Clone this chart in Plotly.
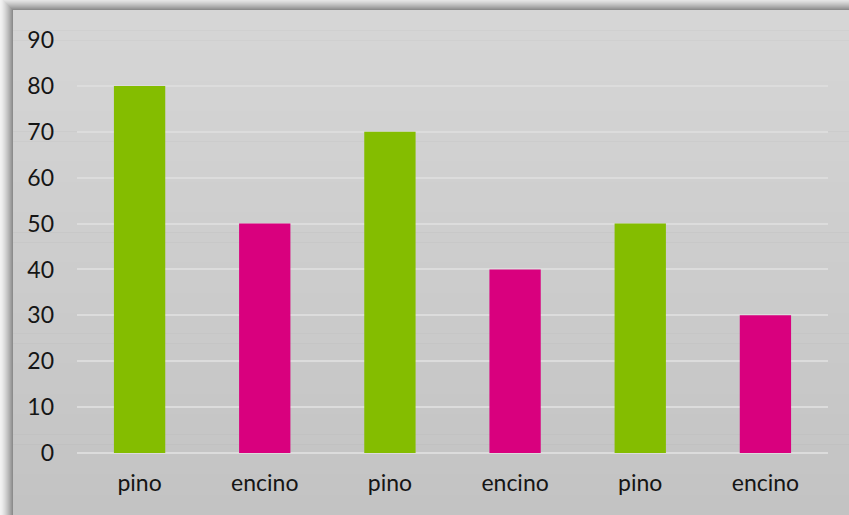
import plotly.graph_objects as go

categories = ["pino", "encino", "pino", "encino", "pino", "encino"]
values = [80, 50, 70, 40, 50, 30]
y_ticks = [0, 10, 20, 30, 40, 50, 60, 70, 80, 90]

COLOR_MAP = {"pino": "#84BD00", "encino": "#D9007E"}

W, H = 849, 515
L, R, T, B = 77, 21, 40, 62
PW, PH = W - L - R, H - T - B


def px(x):
    return (x - L) / PW


def py(y):
    return (H - B - y) / PH


def mix(c1, c2, t):
    return "#%02x%02x%02x" % tuple(int(round(a + (b - a) * t)) for a, b in zip(c1, c2))


shapes = []
# outer shadow (nested rects, lightest first)
n_sh = 13
for i in range(n_sh):
    d = 13 - i
    t = i / (n_sh - 1)
    col = mix((242, 242, 242), (140, 140, 140), t ** 1.4)
    shapes.append(dict(type="rect", xref="paper", yref="paper", layer="below",
                       x0=px(13 - d), x1=px(W + 20), y0=py(10 - d), y1=py(H + 20),
                       line=dict(width=0), fillcolor=col))
# frame background gradient
n_b = 50
fx0, fy0 = 13, 10
for i in range(n_b):
    y0 = fy0 + (H - fy0) * i / n_b
    y1 = fy0 + (H - fy0) * (i + 1) / n_b + 0.5
    t = i / (n_b - 1)
    col = mix((214, 214, 214), (195, 195, 195), t)
    shapes.append(dict(type="rect", xref="paper", yref="paper", layer="below",
                       x0=px(fx0), x1=px(W + 20), y0=py(y0), y1=py(y1),
                       line=dict(width=0), fillcolor=col))

fig = go.Figure()
fig.add_trace(go.Bar(
    x=list(range(len(categories))),
    y=values,
    marker=dict(color=[COLOR_MAP[c] for c in categories], line=dict(width=0)),
    hoverinfo="skip",
))

font_family = "Lato, 'Open Sans', sans-serif"
fig.update_layout(
    width=W, height=H,
    margin=dict(l=L, r=R, t=T, b=B),
    paper_bgcolor="#f2f2f2",
    plot_bgcolor="rgba(0,0,0,0)",
    bargap=0.59,
    showlegend=False,
    shapes=shapes,
    font=dict(family=font_family, size=23, color="#151515"),
    xaxis=dict(
        tickmode="array",
        tickvals=list(range(len(categories))),
        ticktext=categories,
        range=[-0.5, len(categories) - 0.5],
        showgrid=False, zeroline=False, showline=False,
        ticks="", ticklabelstandoff=14,
    ),
    yaxis=dict(
        range=[0, 90],
        tickmode="array",
        tickvals=y_ticks,
        showgrid=True, gridcolor="#dcdcdc", gridwidth=1.5,
        zeroline=True, zerolinecolor="#dcdcdc", zerolinewidth=1.5,
        showline=False, ticks="", ticklabelstandoff=22,
    ),
)

fig.write_html("out.html")
